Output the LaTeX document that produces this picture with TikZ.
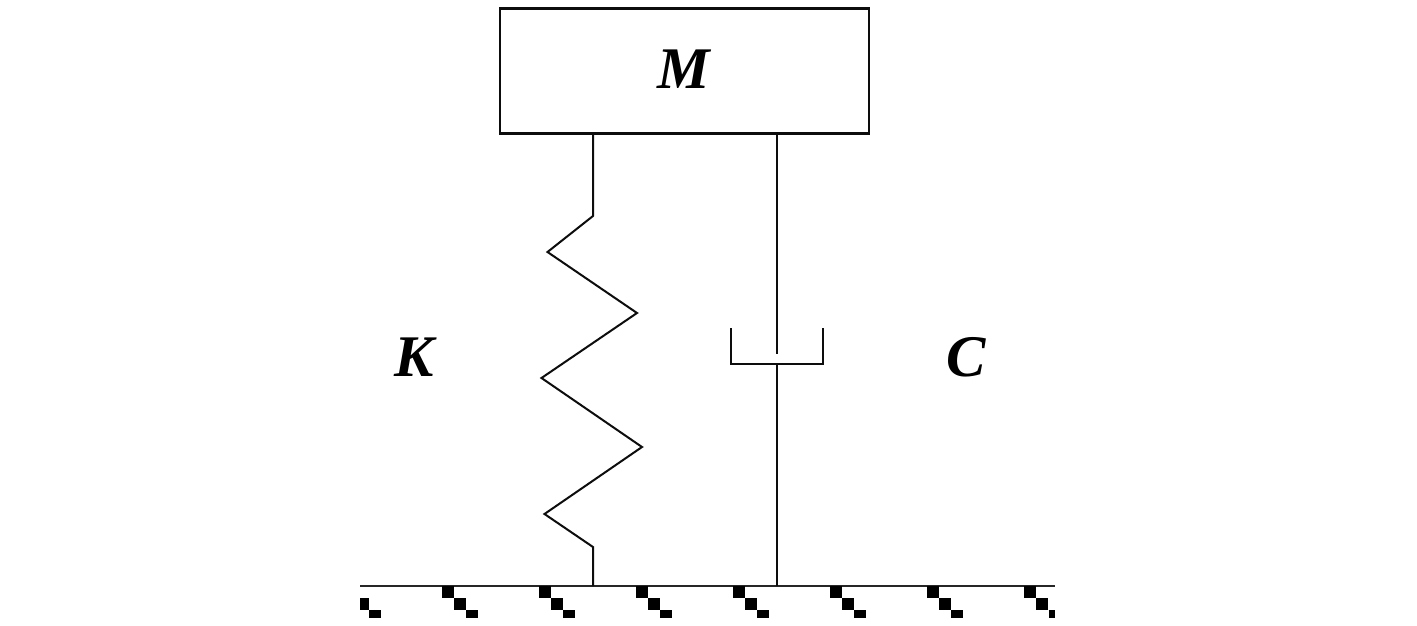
\documentclass[tikz,border=0pt]{standalone}
\usepackage{fontspec}
\setmainfont{Liberation Serif}
\begin{document}
\begin{tikzpicture}[x=1pt,y=-1pt,
  lin/.style={draw=black!95,line width=2pt,line join=miter},
  ground/.style={draw=black!85,line width=1.3pt},
  block/.style={fill=black,draw=none},
  lab/.style={font=\fontsize{59}{59}\selectfont\bfseries\itshape,text=black,inner sep=0pt},
  massbox/.style={draw=black!95,line width=2.2pt,fill=white,inner sep=0pt,minimum width=369pt,minimum height=125pt}]
\useasboundingbox (0,0) rectangle (1417,626);
\node[massbox] (mass) at (684.5,71) {};
\node[lab] (mlabel) at (684,69.5) {M};
\node[lab] (klabel) at (414,357) {K};
\node[lab] (clabel) at (966,357) {C};
% ground
\coordinate (gl) at (360,586);
\coordinate (gr) at (1055,586);
\draw[ground] (gl) -- (gr);
\coordinate (st) at (593,134);
\coordinate (sb) at (593,586);
\coordinate (dt) at (777,134);
\coordinate (db) at (777,586);
% spring
\draw[lin] (st) -- (593,216) -- (547.5,252) -- (637,313) -- (541.5,378) -- (642,447) -- (544.5,514) -- (593,547) -- (sb);
% damper
\coordinate (rodend) at (777,354);
\coordinate (cupc) at (777,363.5);
\draw[lin] (dt) -- (rodend);
\draw[lin] (cupc) -- (db);
\draw[lin] (731,328) -- (731,363.5) -- (cupc) -- (823,363.5) -- (823,328);
% hatch
\fill[block] (360,598) rectangle (368.5,610);
\fill[block] (369,610) rectangle (381,618);
\foreach \x in {442,539,636,733,830,927}{
  \fill[block] (\x,586) rectangle (\x+12,598);
  \fill[block] (\x+12,598) rectangle (\x+24,610);
  \fill[block] (\x+24,610) rectangle (\x+36,618);
}
\fill[block] (1024,586) rectangle (1036,598);
\fill[block] (1036,598) rectangle (1048,610);
\fill[block] (1049,610) rectangle (1055,618);
\end{tikzpicture}
\end{document}
